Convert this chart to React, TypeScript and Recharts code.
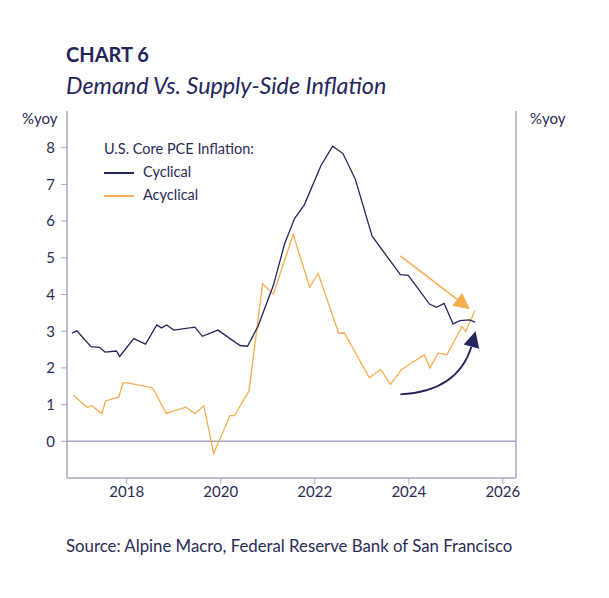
import React from "react";
import { LineChart, Line, XAxis, YAxis, ReferenceLine } from "recharts";

const cycYears = [2016.835,2016.94,2017.24,2017.42,2017.54,2017.78,2017.85,2018.15,2018.40,2018.64,2018.74,2018.85,2019.00,2019.45,2019.61,2019.94,2020.41,2020.57,2020.79,2021.12,2021.36,2021.57,2021.78,2022.13,2022.38,2022.60,2022.86,2023.22,2023.82,2023.99,2024.44,2024.59,2024.75,2024.94,2025.09,2025.29,2025.41];
const cycValues = [2.95,3.01,2.58,2.56,2.43,2.46,2.31,2.80,2.65,3.17,3.09,3.17,3.03,3.11,2.86,3.03,2.61,2.59,3.13,4.25,5.39,6.07,6.45,7.51,8.04,7.84,7.15,5.59,4.54,4.52,3.74,3.65,3.76,3.20,3.29,3.31,3.25];
const acyYears = [2016.86,2017.16,2017.26,2017.47,2017.55,2017.83,2017.92,2018.01,2018.55,2018.84,2019.26,2019.45,2019.64,2019.85,2020.20,2020.29,2020.60,2020.89,2021.12,2021.54,2021.89,2022.07,2022.51,2022.63,2023.16,2023.40,2023.61,2023.85,2024.33,2024.45,2024.62,2024.81,2025.13,2025.21,2025.41];
const acyValues = [1.26,0.92,0.97,0.75,1.10,1.21,1.59,1.59,1.46,0.76,0.93,0.75,0.97,-0.33,0.70,0.70,1.37,4.29,4.01,5.64,4.20,4.58,2.94,2.95,1.73,1.96,1.55,1.96,2.36,2.00,2.40,2.36,3.13,2.99,3.57];
const xTicks = [2018, 2020, 2022, 2024, 2026];
const yTicks = [0, 1, 2, 3, 4, 5, 6, 7, 8];

const cyc = cycYears.map((x, i) => ({ x, v: cycValues[i] }));
const acy = acyYears.map((x, i) => ({ x, v: acyValues[i] }));

const NAVY = "#25255e";
const ORANGE = "#f6ad4e";
const AXIS = "#a8a6c8";
const TEXT = "#2b2b55";
const FONT = "Lato, 'Open Sans', sans-serif";

const Arrow = (props: any) => {
  const { x1, y1, x2, y2, color, curved } = props;
  if ([x1, y1, x2, y2].some((v) => v === undefined || isNaN(v))) return null;
  const ang = curved ? Math.atan2(-30, 8) : Math.atan2(y2 - y1, x2 - x1);
  const L = 16, W = 8;
  const bx = x2 - L * Math.cos(ang), by = y2 - L * Math.sin(ang);
  const px = -Math.sin(ang) * W, py = Math.cos(ang) * W;
  const head = `M${x2},${y2} L${bx + px},${by + py} L${bx - px},${by - py} Z`;
  const path = curved
    ? `M${x1},${y1} Q${x2 - 18},${y1 - 3} ${bx},${by}`
    : `M${x1},${y1} L${bx},${by}`;
  return (
    <g>
      <path d={path} stroke={color} strokeWidth={curved ? 1.8 : 1.5} fill="none" />
      <path d={head} fill={color} />
    </g>
  );
};

export default function App() {
  return (
    <div style={{ position: "absolute", left: 0, top: 0, width: 609, height: 598, background: "#fff", fontFamily: FONT, color: TEXT }}>
      <div style={{ position: "absolute", left: 66, top: 42, fontSize: 20, fontWeight: 700, color: NAVY }}>CHART 6</div>
      <div style={{ position: "absolute", left: 66, top: 71, fontSize: 23.3, fontStyle: "italic", color: NAVY }}>Demand Vs. Supply-Side Inflation</div>
      <div style={{ position: "absolute", left: 22, top: 109, fontSize: 15 }}>%yoy</div>
      <div style={{ position: "absolute", left: 530, top: 109, fontSize: 15 }}>%yoy</div>
      <div style={{ position: "absolute", left: 104, top: 140, fontSize: 14.5 }}>U.S. Core PCE Inflation:</div>
      <div style={{ position: "absolute", left: 104, top: 172, width: 30, height: 1.5, background: NAVY }} />
      <div style={{ position: "absolute", left: 143, top: 163, fontSize: 14.5 }}>Cyclical</div>
      <div style={{ position: "absolute", left: 104, top: 195, width: 30, height: 1.5, background: ORANGE }} />
      <div style={{ position: "absolute", left: 143, top: 186, fontSize: 14.5 }}>Acyclical</div>
      <div style={{ position: "absolute", left: 66, top: 535, fontSize: 16.8 }}>Source:  Alpine Macro, Federal Reserve Bank of San Francisco</div>
      <div style={{ position: "absolute", left: 0, top: 0 }}>
        <LineChart width={609} height={598} margin={{ top: 111, right: 0, bottom: 90, left: 0 }}>
          <XAxis type="number" dataKey="x" domain={[2016.73, 2026.28]} ticks={xTicks} allowDataOverflow
            axisLine={{ stroke: AXIS, strokeWidth: 1.5 }} tickLine={{ stroke: AXIS }} tickSize={6}
            tick={{ fill: TEXT, fontSize: 15, fontFamily: FONT }} height={30} />
          <YAxis yAxisId="l" domain={[-1, 9]} ticks={yTicks} width={67} axisLine={{ stroke: AXIS, strokeWidth: 1.5 }}
            tickLine={{ stroke: AXIS }} tickSize={6} tick={{ fill: TEXT, fontSize: 15, fontFamily: FONT }} tickMargin={6} />
          <YAxis yAxisId="r" orientation="right" domain={[-1, 9]} ticks={yTicks} width={93} axisLine={{ stroke: AXIS, strokeWidth: 1.5 }}
            tickLine={{ stroke: AXIS }} tickSize={6} tick={{ fill: TEXT, fontSize: 15, fontFamily: FONT, textAnchor: "start" }} tickMargin={8} />
          <ReferenceLine yAxisId="l" y={0} stroke={AXIS} strokeWidth={1.5} />
          <Line yAxisId="l" data={acy} dataKey="v" stroke={ORANGE} strokeWidth={1.3} dot={false} isAnimationActive={false} />
          <Line yAxisId="l" data={cyc} dataKey="v" stroke={NAVY} strokeWidth={1.3} dot={false} isAnimationActive={false} />
          <ReferenceLine yAxisId="l" segment={[{ x: 2023.82, y: 5.05 }, { x: 2025.3, y: 3.6 }]} ifOverflow="visible"
            shape={(p: any) => <Arrow {...p} color={ORANGE} />} />
          <ReferenceLine yAxisId="l" segment={[{ x: 2023.82, y: 1.28 }, { x: 2025.42, y: 3.0 }]} ifOverflow="visible"
            shape={(p: any) => <Arrow {...p} color={NAVY} curved />} />
        </LineChart>
      </div>
    </div>
  );
}
